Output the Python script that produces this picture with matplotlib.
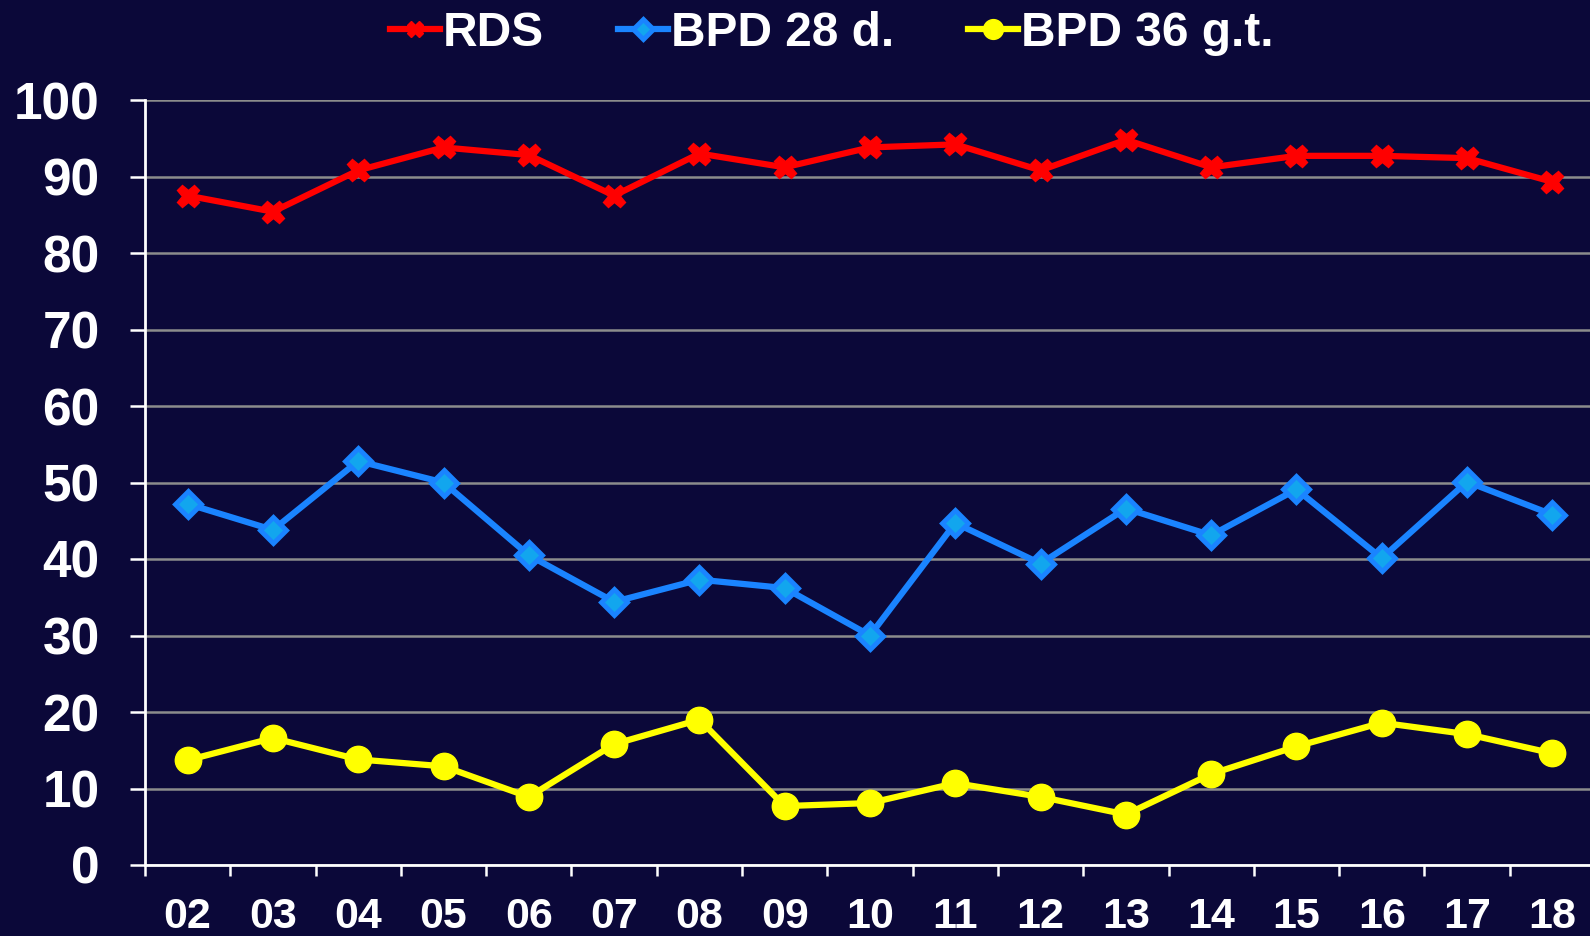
import numpy as np
import matplotlib.pyplot as plt

years = ['02', '03', '04', '05', '06', '07', '08', '09', '10',
         '11', '12', '13', '14', '15', '16', '17', '18']
rds = [87.5, 85.4, 90.8, 93.8, 92.8, 87.5, 93.0, 91.2, 93.8,
       94.2, 90.8, 94.8, 91.2, 92.7, 92.7, 92.4, 89.3]
bpd28 = [47.2, 43.8, 52.8, 50.0, 40.5, 34.4, 37.3, 36.2, 30.0,
         44.7, 39.4, 46.6, 43.1, 49.1, 40.1, 50.1, 45.8]
bpd36 = [13.7, 16.6, 13.8, 12.9, 8.9, 15.8, 19.0, 7.7, 8.1,
         10.7, 8.9, 6.6, 11.9, 15.5, 18.6, 17.1, 14.6]

bg = '#0b0839'
plt.rcParams['font.family'] = ['Liberation Sans', 'DejaVu Sans']
plt.rcParams['font.weight'] = 'bold'

fig = plt.figure(figsize=(15.9, 9.36), dpi=100, facecolor=bg)
ax = fig.add_axes([145 / 1590, 71 / 936, 1450 / 1590, 765 / 936], facecolor=bg)

x = np.arange(len(years))
ax.plot(x, rds, color='#ff0000', lw=4.5, marker='X', ms=16, mec='#ff0000',
        mfc='#ff0000', label='RDS', zorder=3)
ax.plot(x, bpd28, color='#1a84ff', lw=4.5, marker='D', ms=13, mec='#1a84ff',
        mew=3.5, mfc='#12a6ee', label='BPD 28 d.', zorder=3)
ax.plot(x, bpd36, color='#ffff00', lw=4.5, marker='o', ms=19, mec='#ffff00',
        mfc='#ffff00', label='BPD 36 g.t.', zorder=3)

ax.set_xlim(-0.5, len(years) - 0.5)
ax.set_ylim(0, 100)
ax.set_yticks(np.arange(0, 101, 10))
ax.yaxis.grid(True, color='#8c8c8c', lw=1.8)
ax.set_axisbelow(True)

ax.set_xticks(x)
ax.set_xticklabels(years)
ax.set_xticks(np.arange(-0.5, len(years), 1), minor=True)
ax.tick_params(axis='x', which='major', length=0, pad=23, labelsize=31, colors='white')
ax.tick_params(axis='x', which='minor', length=8, width=1.8, direction='out', color='white')
ax.tick_params(axis='y', length=11, width=1.8, pad=21.5, labelsize=37, colors='white')

for s in ['top', 'right']:
    ax.spines[s].set_visible(False)
for s in ['left', 'bottom']:
    ax.spines[s].set_color('white')
    ax.spines[s].set_linewidth(2)

leg = fig.legend(loc='center', bbox_to_anchor=(0.523, 1 - 33.5 / 936), ncol=3, frameon=False,
                 fontsize=34.5, handlelength=1.05, handletextpad=0.05, columnspacing=1.55,
                 markerscale=0.75)
for t in leg.get_texts():
    t.set_color('white')

fig.savefig('out.png', dpi=100, facecolor=bg)
